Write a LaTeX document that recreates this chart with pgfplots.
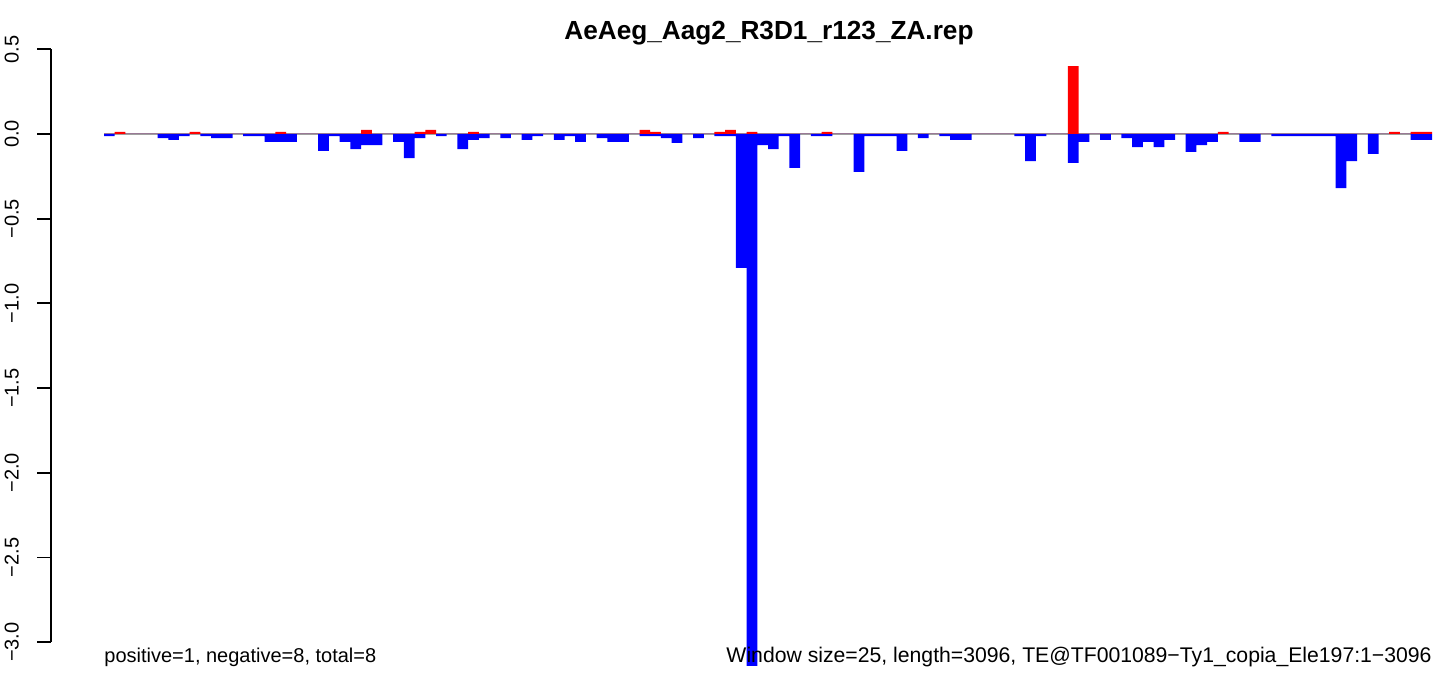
\documentclass[border=0pt]{standalone}
\usepackage{pgfplots}
\usepackage{pgfplotstable}
\pgfplotsset{compat=1.18}
\usepackage{fontspec}
\setmainfont{Liberation Sans}
\definecolor{rblue}{RGB}{0,0,255}
\definecolor{rred}{RGB}{255,0,0}
\definecolor{zgray}{RGB}{160,160,160}

\pgfplotstableread{
k red blue
0.5 0 -0.012
1.5 0.012 0
2.5 0 0
3.5 0 0
4.5 0 0
5.5 0 -0.024
6.5 0 -0.035
7.5 0 -0.012
8.5 0.012 0
9.5 0 -0.012
10.5 0 -0.024
11.5 0 -0.024
12.5 0 0
13.5 0 -0.012
14.5 0 -0.012
15.5 0 -0.047
16.5 0.012 -0.047
17.5 0 -0.047
18.5 0 0
19.5 0 0
20.5 0 -0.100
21.5 0 -0.012
22.5 0 -0.047
23.5 0 -0.089
24.5 0.024 -0.065
25.5 0 -0.065
26.5 0 0
27.5 0 -0.047
28.5 0 -0.142
29.5 0.012 -0.024
30.5 0.024 0
31.5 0 -0.012
32.5 0 0
33.5 0 -0.089
34.5 0.012 -0.035
35.5 0 -0.024
36.5 0 0
37.5 0 -0.024
38.5 0 0
39.5 0 -0.035
40.5 0 -0.012
41.5 0 0
42.5 0 -0.035
43.5 0 -0.012
44.5 0 -0.047
45.5 0 0
46.5 0 -0.024
47.5 0 -0.047
48.5 0 -0.047
49.5 0 0
50.5 0.024 -0.012
51.5 0.012 -0.012
52.5 0 -0.024
53.5 0 -0.053
54.5 0 0
55.5 0 -0.024
56.5 0 0
57.5 0.012 -0.012
58.5 0.024 -0.012
59.5 0 -0.790
60.5 0.012 -3.140
61.5 0 -0.065
62.5 0 -0.089
63.5 0 -0.012
64.5 0 -0.200
65.5 0 0
66.5 0 -0.012
67.5 0.012 -0.012
68.5 0 0
69.5 0 0
70.5 0 -0.224
71.5 0 -0.012
72.5 0 -0.012
73.5 0 -0.012
74.5 0 -0.100
75.5 0 0
76.5 0 -0.024
77.5 0 0
78.5 0 -0.012
79.5 0 -0.035
80.5 0 -0.035
81.5 0 0
82.5 0 0
83.5 0 0
84.5 0 0
85.5 0 -0.012
86.5 0 -0.160
87.5 0 -0.012
88.5 0 0
89.5 0 0
90.5 0.400 -0.171
91.5 0 -0.047
92.5 0 0
93.5 0 -0.035
94.5 0 0
95.5 0 -0.024
96.5 0 -0.077
97.5 0 -0.047
98.5 0 -0.077
99.5 0 -0.035
100.5 0 0
101.5 0 -0.106
102.5 0 -0.065
103.5 0 -0.047
104.5 0.012 0
105.5 0 0
106.5 0 -0.047
107.5 0 -0.047
108.5 0 0
109.5 0 -0.012
110.5 0 -0.012
111.5 0 -0.012
112.5 0 -0.012
113.5 0 -0.012
114.5 0 -0.012
115.5 0 -0.319
116.5 0 -0.160
117.5 0 0
118.5 0 -0.118
119.5 0 0
120.5 0.012 0
121.5 0 0
122.5 0.012 -0.035
123.5 0.012 -0.035
}\bardata

\begin{document}
\begin{tikzpicture}
\useasboundingbox (0,0) rectangle (724.5pt,337.5pt);
\begin{axis}[
  at={(25.35pt,16.4pt)}, anchor=south west,
  scale only axis, width=699.15pt, height=296.45pt,
  xmin=-4.977, xmax=125.584,
  ymin=-3, ymax=0.5,
  axis x line=none, axis y line=left,
  y axis line style={-, line width=0.9pt},
  ytick={-3,-2.5,-2,-1.5,-1,-0.5,0,0.5},
  yticklabels={−3.0,−2.5,−2.0,−1.5,−1.0,−0.5,0.0,0.5},
  tick align=outside, major tick length=6.7pt,
  tick style={black, line width=0.9pt},
  yticklabel style={xshift=-9pt, rotate=90, anchor=south, inner sep=0pt, font=\fontsize{10}{12}\selectfont},
  clip=false,
]
\addplot[zgray, line width=1pt] coordinates {(0,0) (124,0)};
\addplot[ybar, bar width=1, bar shift=0pt, fill=rblue, draw=none] table[x=k, y=blue] {\bardata};
\addplot[ybar, bar width=1, bar shift=0pt, fill=rred, draw=none] table[x=k, y=red] {\bardata};
\end{axis}
\node[anchor=base, inner sep=0pt, font=\bfseries\fontsize{13.1}{15}\selectfont] at (384.5pt,317.5pt) {AeAeg\_Aag2\_R3D1\_r123\_ZA.rep};
\node[anchor=base west, inner sep=0pt, font=\fontsize{10}{12}\selectfont] at (52pt,6.5pt) {positive=1, negative=8, total=8};
\node[anchor=base east, inner sep=0pt, font=\fontsize{10.6}{12}\selectfont] at (716pt,6.5pt) {Window size=25, length=3096, TE@TF001089−Ty1\_copia\_Ele197:1−3096};
\end{tikzpicture}
\end{document}
